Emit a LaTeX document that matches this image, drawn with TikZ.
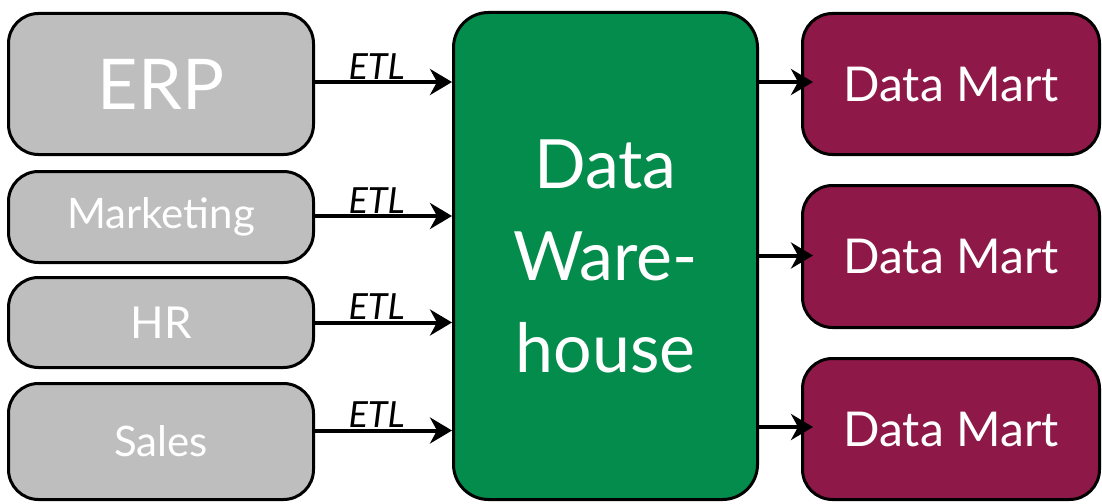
\documentclass[tikz,border=0pt]{standalone}
\usepackage{fontspec}
\setmainfont{Lato}
\usetikzlibrary{arrows.meta}
\definecolor{srcgray}{RGB}{190,190,190}
\definecolor{dwgreen}{RGB}{4,140,76}
\definecolor{dmred}{RGB}{142,24,72}
\begin{document}
\begin{tikzpicture}[
  x=1pt, y=-1pt,
  box/.style={draw=black, line width=3pt, rounded corners=30pt, text=white, align=center, inner sep=0pt},
  source/.style={box, fill=srcgray, minimum width=305pt},
  mart/.style={box, fill=dmred, minimum width=297pt, minimum height=141pt, font=\fontsize{48}{56}\selectfont},
  flow/.style={line width=4pt, -{Stealth[length=22pt, width=26pt, inset=7pt]}},
  etl/.style={font=\fontsize{36}{40}\selectfont\itshape, text=black, above=0pt, pos=0.45, inner sep=1pt}
]
\useasboundingbox (0,0) rectangle (1102,503);
% sources on the left:
\node [source, minimum height=141pt, font=\fontsize{70}{80}\selectfont] (erp) at (161,84) {ERP};
\node [source, minimum height=91pt, font=\fontsize{42}{48}\selectfont] (mkt) at (161,217) {Marketing};
\node [source, minimum height=90pt, font=\fontsize{44}{50}\selectfont] (hr) at (161,322.5) {HR};
\node [source, minimum height=116pt, font=\fontsize{42}{48}\selectfont] (sales) at (161,441.5) {Sales};

% the warehouse:
\node [box, fill=dwgreen, rounded corners=35pt, minimum width=304pt, minimum height=487pt,
       font=\fontsize{68}{92}\selectfont] (dw) at (605.5,256) {Data\\Ware-\\house};

% marts on the right:
\node [mart] (dm1) at (951,84) {Data Mart};
\node [mart, minimum height=142pt] (dm2) at (951,256.5) {Data Mart};
\node [mart] (dm3) at (951,429) {Data Mart};

% ETL flows in, marts fed out:
\foreach \src/\dy in {erp/2, mkt/1, hr/0, sales/11} {
  \draw [flow] ([yshift=\dy pt]\src.east) -- ([yshift=\dy pt]\src.east -| dw.west) node[etl] {ETL};
}
\foreach \dm/\dy in {dm1/2, dm2/1, dm3/2} {
  \draw [flow] ([yshift=\dy pt]\dm.west -| dw.east) -- ([yshift=\dy pt, xshift=12pt]\dm.west);
}
\end{tikzpicture}
\end{document}
